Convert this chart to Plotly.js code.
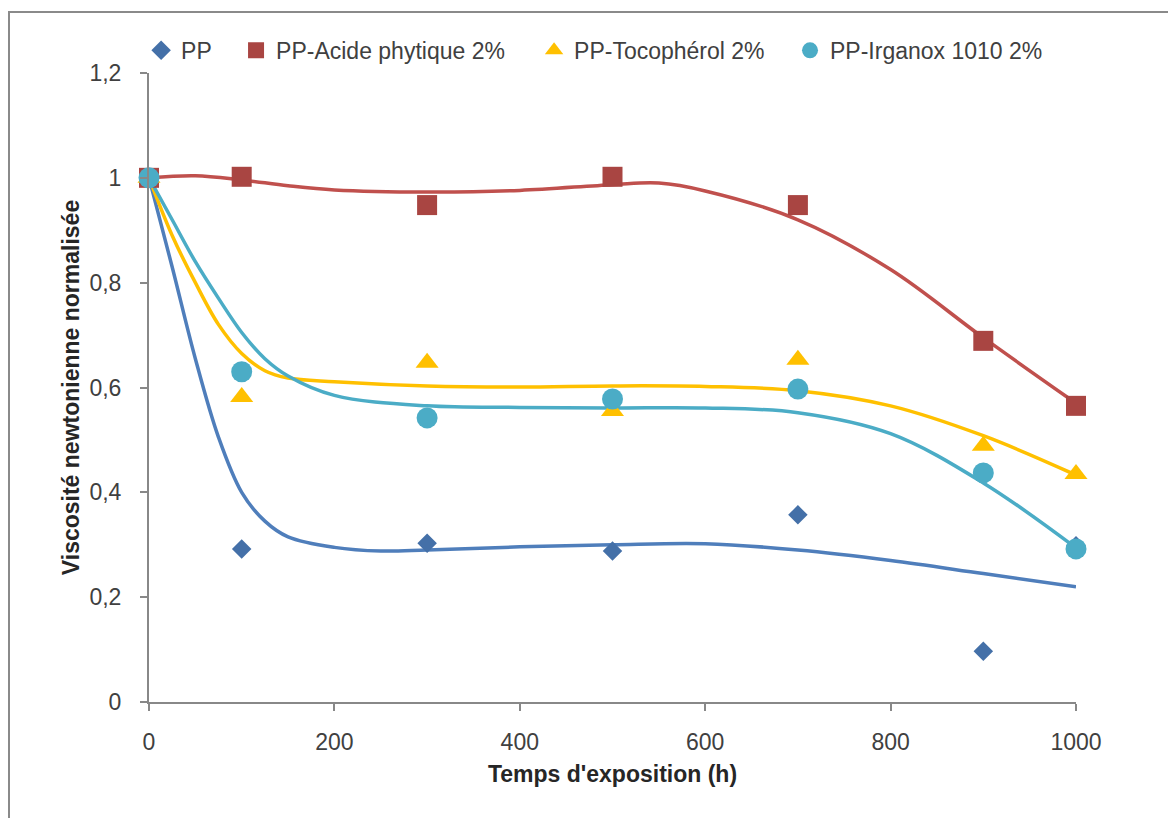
<!DOCTYPE html>
<html>
<head>
<meta charset="utf-8">
<script src="https://cdn.plot.ly/plotly-3.0.1.min.js"></script>
<style>
  html, body { margin: 0; padding: 0; background: #fff; }
  #wrap { position: relative; width: 1168px; height: 818px; overflow: hidden; }
  #frame { position: absolute; left: 8px; top: 11px; width: 1200px; height: 900px;
           border-top: 2px solid #8a8a8a; border-left: 2px solid #8a8a8a; pointer-events: none; z-index: 5; }
  #chart { position: absolute; left: 0; top: 0; width: 1168px; height: 818px; }
</style>
</head>
<body>
<div id="wrap">
  <div id="chart"></div>
  <div id="frame"></div>
</div>
<script>
// ---- Measured points ----
const timeH = [0, 100, 300, 500, 700, 900, 1000];
const ppValues      = [1.0, 0.292, 0.303, 0.288, 0.357, 0.097, 0.298];
const acideValues   = [1.0, 1.002, 0.948, 1.002, 0.948, 0.689, 0.565];
const tocoValues    = [1.0, 0.582, 0.647, 0.555, 0.653, 0.489, 0.435];
const irganoxValues = [1.0, 0.630, 0.542, 0.578, 0.597, 0.437, 0.292];

// ---- Trend curves ----
const ppCurveX = [0, 25, 50, 75, 100, 125, 150, 200, 250, 300, 400, 500, 600, 700, 800, 900, 1000];
const ppCurveY = [1.0, 0.83, 0.655, 0.505, 0.40, 0.345, 0.315, 0.295, 0.288, 0.29, 0.296, 0.30, 0.302, 0.29, 0.27, 0.245, 0.22];
const acideCurveX = [0, 50, 100, 150, 200, 300, 400, 500, 550, 600, 700, 800, 900, 1000];
const acideCurveY = [1.0, 1.004, 0.996, 0.985, 0.977, 0.973, 0.976, 0.987, 0.99, 0.975, 0.92, 0.825, 0.695, 0.57];
const tocoCurveX = [0, 25, 50, 75, 100, 125, 150, 200, 300, 400, 500, 600, 700, 800, 900, 1000];
const tocoCurveY = [1.0, 0.89, 0.80, 0.72, 0.665, 0.632, 0.618, 0.611, 0.603, 0.601, 0.603, 0.602, 0.594, 0.565, 0.508, 0.433];
const irgCurveX = [0, 25, 50, 75, 100, 125, 150, 200, 300, 400, 500, 600, 700, 800, 900, 1000];
const irgCurveY = [1.0, 0.92, 0.84, 0.77, 0.705, 0.655, 0.622, 0.585, 0.565, 0.562, 0.561, 0.561, 0.552, 0.512, 0.418, 0.294];

const seriesNames = ["PP", "PP-Acide phytique 2%", "PP-Tocophérol 2%", "PP-Irganox 1010 2%"];
const xTickVals = [0, 200, 400, 600, 800, 1000];
const yTickVals = [0, 0.2, 0.4, 0.6, 0.8, 1, 1.2];

const FONT = "Liberation Sans, Arial, sans-serif";

function curve(x, y, color) {
  return { x: x, y: y, mode: "lines", type: "scatter", showlegend: false, hoverinfo: "skip",
           line: { color: color, width: 3.5, shape: "spline", smoothing: 1 } };
}
function pts(y, name, symbol, size, color, legendId) {
  return { x: timeH, y: y, name: name, mode: "markers", type: "scatter", cliponaxis: false, legend: legendId,
           marker: { symbol: symbol, size: size, color: color, line: { width: 0 } } };
}

const traces = [
  curve(ppCurveX, ppCurveY, "#4F7EBB"),
  curve(acideCurveX, acideCurveY, "#C0504D"),
  curve(tocoCurveX, tocoCurveY, "#FFC000"),
  curve(irgCurveX, irgCurveY, "#4BACC6"),
  pts(ppValues, seriesNames[0], "diamond", 15, "#4470A8", "legend"),
  pts(acideValues, seriesNames[1], "square", 20, "#A94542", "legend2"),
  pts(tocoValues, seriesNames[2], "triangle-up", 20, "#FFC000", "legend3"),
  pts(irganoxValues, seriesNames[3], "circle", 21, "#4BACC6", "legend4")
];

function leg(x) {
  return { orientation: "h", x: x, xanchor: "left", y: 1.036, yanchor: "middle",
           font: { family: FONT, size: 23, color: "#404040" }, itemclick: false, bgcolor: "rgba(0,0,0,0)" };
}

const layout = {
  width: 1168, height: 818,
  margin: { l: 149, r: 92, t: 73, b: 116, pad: 0 },
  paper_bgcolor: "#ffffff", plot_bgcolor: "#ffffff",
  separators: ", ",
  font: { family: FONT, size: 23, color: "#404040" },
  showlegend: true,
  legend: leg(-0.0085),
  legend2: leg(0.0939),
  legend3: leg(0.4154),
  legend4: leg(0.6915),
  xaxis: {
    range: [0, 1000], tickvals: xTickVals, ticks: "outside", ticklen: 7, tickwidth: 2, tickcolor: "#888888",
    showline: true, linecolor: "#888888", linewidth: 2, showgrid: false, zeroline: false,
    tickfont: { family: FONT, size: 23, color: "#404040" }, ticklabelstandoff: 11,
    title: { text: "<b>Temps d'exposition (h)</b>", font: { family: FONT, size: 23, color: "#262626" }, standoff: 12 }
  },
  yaxis: {
    range: [0, 1.2], tickvals: yTickVals, ticks: "outside", ticklen: 7, tickwidth: 2, tickcolor: "#888888",
    showline: true, linecolor: "#888888", linewidth: 2, showgrid: false, zeroline: false,
    tickfont: { family: FONT, size: 23, color: "#404040" }, ticklabelstandoff: 14,
    title: { text: "<b>Viscosité newtonienne normalisée</b>", font: { family: FONT, size: 23, color: "#262626" }, standoff: 3 }
  }
};

Plotly.newPlot("chart", traces, layout, { staticPlot: true, displayModeBar: false });
</script>
</body>
</html>
